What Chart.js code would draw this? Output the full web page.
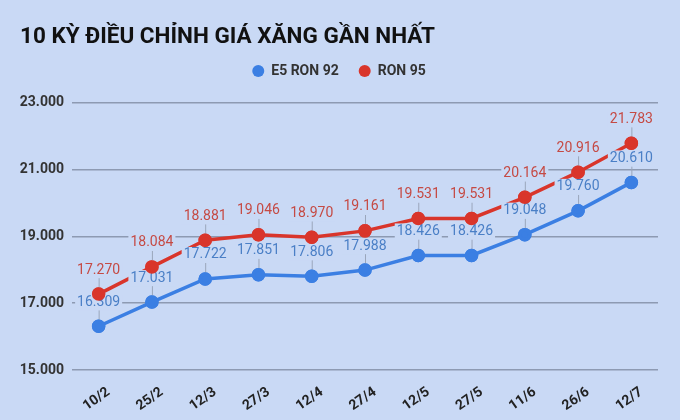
<!DOCTYPE html>
<html>
<head>
<meta charset="utf-8">
<script src="https://cdn.jsdelivr.net/npm/chart.js@4"></script>
<style>
  html, body { margin: 0; padding: 0; background: #c9d9f5; }
  #wrap { width: 680px; height: 420px; position: relative; }
</style>
</head>
<body>
<div id="wrap"><canvas id="c"></canvas></div>
<script>
// ---- data ----
const dates = ['10/2','25/2','12/3','27/3','12/4','27/4','12/5','27/5','11/6','26/6','12/7'];
const e5Ron92 = [16309, 17031, 17722, 17851, 17806, 17988, 18426, 18426, 19048, 19760, 20610];
const ron95 = [17270, 18084, 18881, 19046, 18970, 19161, 19531, 19531, 20164, 20916, 21783];
const yTicks = [15000, 17000, 19000, 21000, 23000];

const BG = '#c9d9f5';
const fmt = v => String(v).replace(/\B(?=(\d{3})+(?!\d))/g, '.');

// Plugin: nhãn giá trị với đường dẫn dọc
const pointLabels = {
  id: 'pointLabels',
  afterDatasetsDraw(chart) {
    const { ctx } = chart;
    chart.data.datasets.forEach((ds, di) => {
      const meta = chart.getDatasetMeta(di);
      meta.data.forEach((el, i) => {
        const txt = fmt(ds.data[i]);
        const ly = el.y - 24;
        ctx.save();
        ctx.font = '14px Roboto';
        const w = ctx.measureText(txt).width;
        ctx.strokeStyle = '#9aa6bb';
        ctx.lineWidth = 1;
        ctx.beginPath();
        ctx.moveTo(el.x + 0.5, el.y);
        ctx.lineTo(el.x + 0.5, ly + 8);
        ctx.stroke();
        ctx.fillStyle = BG;
        ctx.fillRect(el.x - w / 2 - 2, ly - 8, w + 4, 16);
        ctx.fillStyle = ds.labelColor;
        ctx.textAlign = 'center';
        ctx.textBaseline = 'middle';
        ctx.fillText(txt, el.x, ly);
        ctx.restore();
      });
    });
    // vẽ lại các điểm để nằm trên đường dẫn
    chart.data.datasets.forEach((ds, di) => {
      chart.getDatasetMeta(di).data.forEach(el => el.draw(ctx));
    });
  }
};

// Plugin: thêm khoảng trống dưới chú giải
const legendGap = {
  id: 'legendGap',
  beforeInit(chart) {
    const fit = chart.legend.fit;
    chart.legend.fit = function () { fit.bind(chart.legend)(); this.height += 14.5; };
  }
};

new Chart(document.getElementById('c'), {
  type: 'line',
  data: {
    labels: dates,
    datasets: [
      { label: 'E5 RON 92', data: e5Ron92, borderColor: '#3b7fe3', backgroundColor: '#3b7fe3',
        labelColor: '#4a7fc6', borderWidth: 3.5, pointRadius: 5, pointHoverRadius: 5, tension: 0 },
      { label: 'RON 95', data: ron95, borderColor: '#d9352b', backgroundColor: '#d9352b',
        labelColor: '#c54a44', borderWidth: 3.5, pointRadius: 5, pointHoverRadius: 5, tension: 0 }
    ]
  },
  options: {
    responsive: true, maintainAspectRatio: false, animation: false,
    layout: { padding: { left: 20, right: 22, top: 0, bottom: 0 } },
    plugins: {
      title: {
        display: true, text: '10 KỲ ĐIỀU CHỈNH GIÁ XĂNG GẦN NHẤT', align: 'start',
        color: '#111', font: { family: 'Roboto', size: 22.5, weight: 'bold' },
        padding: { top: 23.5, bottom: -6.5 }
      },
      legend: {
        labels: {
          usePointStyle: true, pointStyle: 'circle', boxWidth: 12, boxHeight: 8.5,
          color: '#333', padding: 20, font: { family: 'Roboto', size: 14, weight: 'bold' },
          generateLabels: chart => chart.data.datasets.map((ds, i) => ({
            text: ds.label, fillStyle: ds.borderColor, strokeStyle: ds.borderColor,
            lineWidth: 0, pointStyle: 'circle', datasetIndex: i, fontColor: '#333'
          }))
        }
      },
      tooltip: { enabled: false }
    },
    scales: {
      x: {
        offset: true,
        afterFit: s => { s.height = 50; },
        grid: { display: false },
        border: { display: false },
        ticks: { color: '#222', font: { family: 'Roboto', size: 14, weight: 'bold' },
                 maxRotation: 35, minRotation: 35, labelOffset: 10, padding: 6 }
      },
      y: {
        min: 15000, max: 23000,
        afterBuildTicks: s => { s.ticks = yTicks.map(v => ({ value: v })); },
        afterFit: s => { s.width = 52; },
        grid: { color: '#8d9ab2', lineWidth: 1.5, drawTicks: false },
        border: { display: false },
        ticks: { color: '#333', padding: 8, font: { family: 'Roboto', size: 14, weight: 'bold' },
                 callback: v => fmt(v) }
      }
    }
  },
  plugins: [pointLabels, legendGap]
});
</script>
</body>
</html>
